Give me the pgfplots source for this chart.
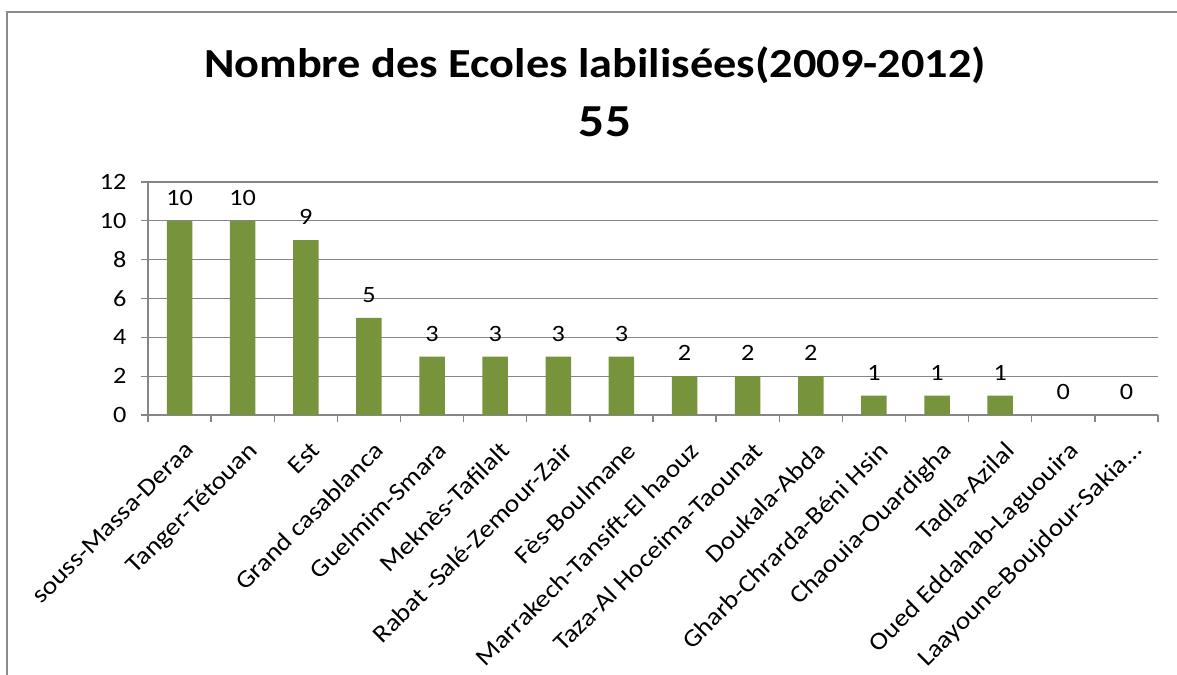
\documentclass[border=0pt]{standalone}
\usepackage{pgfplots}
\pgfplotsset{compat=1.18}
\usepackage{fontspec}
\setmainfont{Carlito}[FakeStretch=1.12]
\definecolor{barg}{RGB}{119,147,60}
\definecolor{gridg}{RGB}{134,134,134}
\definecolor{bordg}{RGB}{140,140,140}
\begin{document}
\begin{tikzpicture}[x=1bp,y=1bp]
\begin{axis}[
  at={(0,0)}, anchor=south west,
  scale only axis, width=1010bp, height=233bp,
  xmin=-0.5, xmax=15.5, ymin=0, ymax=12,
  axis x line*=bottom, axis y line*=left,
  axis line style={gridg, line width=1.3bp},
  ytick={0,2,4,6,8,10,12},
  ymajorgrids, major grid style={gridg, line width=1.3bp},
  xtick={0,...,15},
  xticklabels={},
  minor xtick={-0.5,0.5,1.5,2.5,3.5,4.5,5.5,6.5,7.5,8.5,9.5,10.5,11.5,12.5,13.5,14.5,15.5},
  tick align=outside,
  major tick length=7bp, minor tick length=7bp,
  major x tick style={draw=none},
  minor x tick style={gridg, line width=1.3bp},
  major y tick style={gridg, line width=1.3bp},
  /pgf/number format/assume math mode=true,
  yticklabel style={font=\fontsize{23.5}{27}\selectfont, xshift=-11bp},
  ybar, bar width=25.6bp,
  nodes near coords,
  every node near coord/.append style={font=\fontsize{23.5}{27}\selectfont, black, yshift=12bp},
  clip=false,
]
\addplot[fill=barg, draw=none] coordinates {
(0,10) (1,10) (2,9) (3,5) (4,3) (5,3) (6,3) (7,3) (8,2) (9,2) (10,2) (11,1) (12,1) (13,1) (14,0) (15,0)};
\end{axis}
\foreach \lab [count=\i from 0] in {souss-Massa-Deraa, Tanger-Tétouan, Est, Grand casablanca, Guelmim-Smara, Meknès-Tafilalt, Rabat -Salé-Zemour-Zair, Fès-Boulmane, Marrakech-Tansift-El haouz, Taza-Al Hoceima-Taounat, Doukala-Abda, Gharb-Chrarda-Béni Hsin, Chaouia-Ouardigha, Tadla-Azilal, Oued Eddahab-Laguouira, Laayoune-Boujdour-Sakia…}
  \node[rotate=45, anchor=north east, inner sep=0pt, font=\fontsize{24.8}{29}\selectfont] at ({63.125*(\i+0.5)+4}, -25) {\lab};
\draw[bordg, line width=1.5bp] (-141,-262) -- (-141,403) -- (1031,403);
\node[anchor=base, font=\fontsize{41.5}{48}\selectfont\bfseries] at (447,337) {Nombre des Ecoles labilisées(2009-2012)};
\node[anchor=base, font=\fontsize{46}{50}\selectfont\bfseries] at (457,278) {55};
\pgfresetboundingbox
\path (-148,-260) rectangle (1029,415);
\end{tikzpicture}
\end{document}
